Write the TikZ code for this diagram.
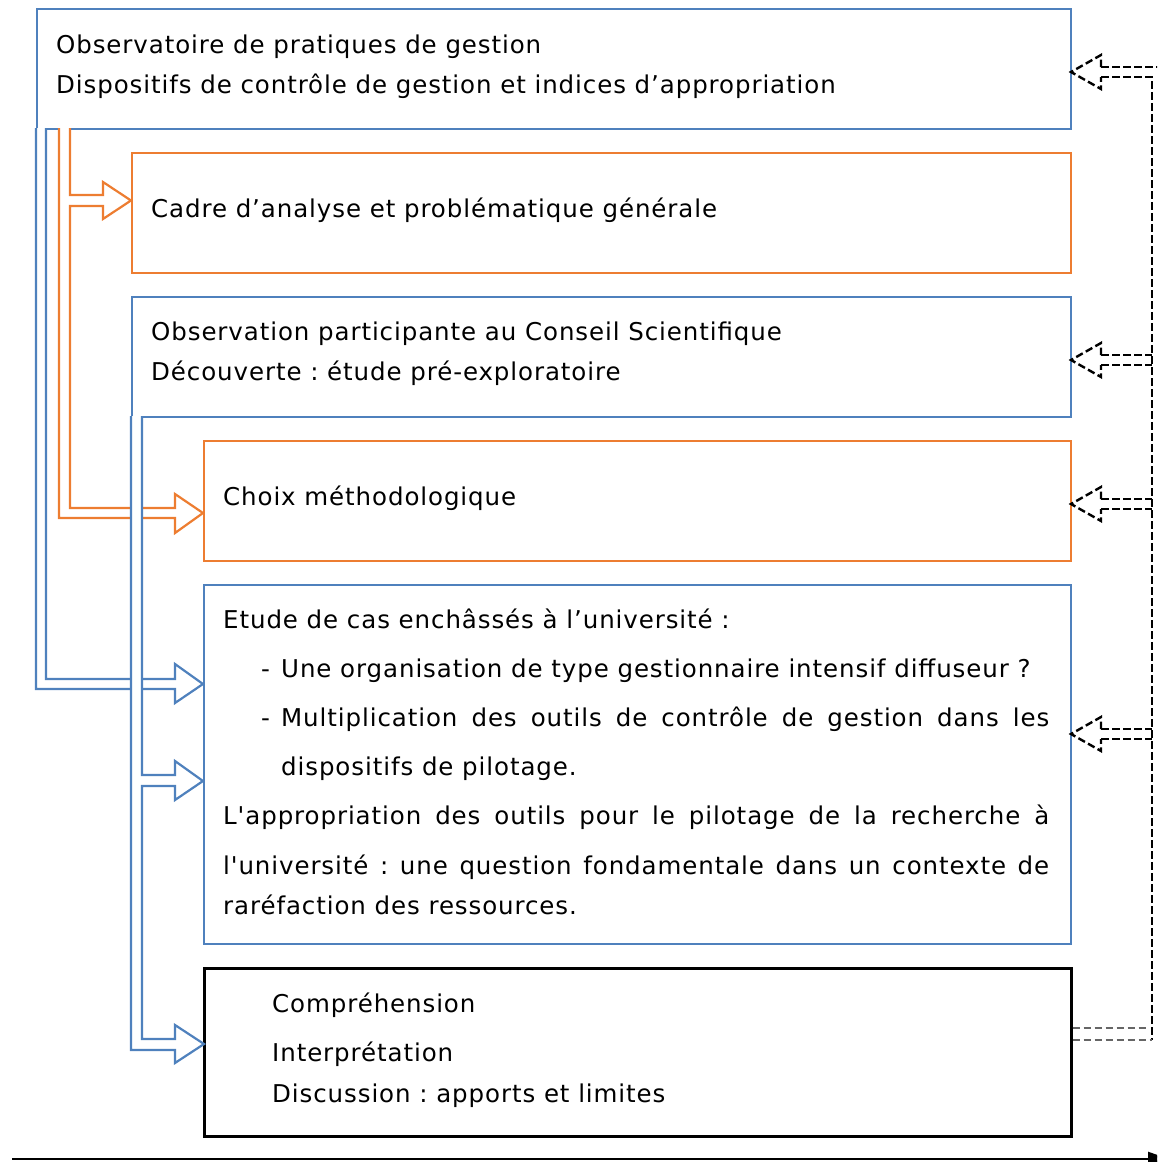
\documentclass[tikz,border=0pt]{standalone}
\usepackage{fontspec}
\setmainfont{DejaVu Sans}[LetterSpace=3.7, Ligatures=TeXOff]
\usetikzlibrary{arrows.meta}
\definecolor{ublue}{RGB}{79,129,189}
\definecolor{uorange}{RGB}{237,125,49}
\frenchspacing
\begin{document}
\begin{tikzpicture}[x=1pt,y=-1pt,
  box/.style={draw, line width=1.5pt, anchor=north west, inner sep=0pt},
  txt/.style={anchor=base west, inner sep=0pt, font=\fontsize{24.5}{29}\selectfont},
  blockarrow/.style={line width=2.2pt, fill=white, line join=miter},
  dasharrow/.style={line width=2.4pt, dash pattern=on 7.5pt off 3.5pt},
]
\useasboundingbox (0,0) rectangle (1157,1162);
\clip (0,0) rectangle (1157,1162);

% boxes
\node[box, draw=ublue, minimum width=1034pt, minimum height=120pt] (b1) at (36,8) {};
\node[box, draw=uorange, minimum width=939pt, minimum height=120pt] (b2) at (131,152) {};
\node[box, draw=ublue, minimum width=939pt, minimum height=120pt] (b3) at (131,296) {};
\node[box, draw=uorange, minimum width=867pt, minimum height=120pt] (b4) at (203,440) {};
\node[box, draw=ublue, minimum width=867pt, minimum height=359pt] (b5) at (203,584) {};
\node[box, draw=black, line width=2.5pt, minimum width=867pt, minimum height=168pt] (b6) at (203,967) {};

% texts
\node[txt] (t1a) at (56,53) {Observatoire de pratiques de gestion};
\node[txt] (t1b) at (56,93) {Dispositifs de contrôle de gestion et indices d’appropriation};
\node[txt] (t2) at (151,217) {Cadre d’analyse et problématique générale};
\node[txt] (t3a) at (151,340) {Observation participante au Conseil Scientifique};
\node[txt] (t3b) at (151,380) {Découverte : étude pré-exploratoire};
\node[txt] (t4) at (223,505) {Choix méthodologique};
\node[txt] (t5a) at (223,628) {Etude de cas enchâssés à l’université :};
\node[txt] (t5d1) at (261,677) {-};
\node[txt] (t5b) at (281,677) {Une organisation de type gestionnaire intensif diffuseur ?};
\node[txt] (t5d2) at (261,726) {-};
\node[txt] (t5c) at (281,726) {\makebox[768pt][s]{Multiplication des outils de contrôle de gestion dans les}};
\node[txt] (t5e) at (281,775) {dispositifs de pilotage.};
\node[txt] (t5f) at (223,824) {\makebox[826pt][s]{L'appropriation des outils pour le pilotage de la recherche à}};
\node[txt] (t5g) at (223,874) {\makebox[826pt][s]{l'université : une question fondamentale dans un contexte de}};
\node[txt] (t5h) at (223,914) {raréfaction des ressources.};
\node[txt] (t6a) at (272,1012) {Compréhension};
\node[txt] (t6b) at (272,1061) {Interprétation};
\node[txt] (t6c) at (272,1102) {Discussion : apports et limites};

% blue block arrow from b1
\draw[blockarrow, draw=ublue]
  (46,128) -- (46,679) -- (175,679) -- (175,664) -- (203,684) -- (175,703)
  -- (175,689) -- (36,689) -- (36,128);
% orange block arrows from b1
\draw[blockarrow, draw=uorange]
  (70,128) -- (70,195) -- (103,195) -- (103,182) -- (131,200.5) -- (103,219)
  -- (103,206) -- (70,206) -- (70,508) -- (175,508) -- (175,494) -- (203,513)
  -- (175,533) -- (175,518) -- (59,518) -- (59,128);
% blue block arrows from b3
\draw[blockarrow, draw=ublue]
  (142,416) -- (142,775) -- (175,775) -- (175,761) -- (203,781) -- (175,800)
  -- (175,786) -- (142,786) -- (142,1039) -- (175,1039) -- (175,1025)
  -- (204,1044) -- (175,1063) -- (175,1050) -- (131,1050) -- (131,416);

% dashed feedback arrows on the right
\coordinate (fbtop) at (1152,77);
\coordinate (fbbot) at (1152,1040);
\foreach \t in {72,360,504,734}{
  \draw[dasharrow] (1101,\t-5) -- (1101,\t-17) -- (1071,\t) -- (1101,\t+17) -- (1101,\t+5);
}
\draw[dasharrow] (1101,67) -- (1160,67);
\draw[dasharrow] (1101,77) -- (fbtop) -- (fbbot);
\foreach \t in {360,504,734}{
  \draw[dasharrow] (1101,\t-5) -- (1152,\t-5);
  \draw[dasharrow] (1101,\t+5) -- (1152,\t+5);
}
\draw[dasharrow, draw=black!60] (b6.east |- 0,1028) -- (1148,1028);
\draw[dasharrow, draw=black!60] (b6.east |- 0,1040) -- (fbbot);

% time axis
\coordinate (axs) at (12,1159);
\coordinate (axe) at (1169,1159);
\draw[line width=2.5pt, -{Triangle[length=21pt,width=14pt]}] (axs) -- (axe);
\end{tikzpicture}
\end{document}
